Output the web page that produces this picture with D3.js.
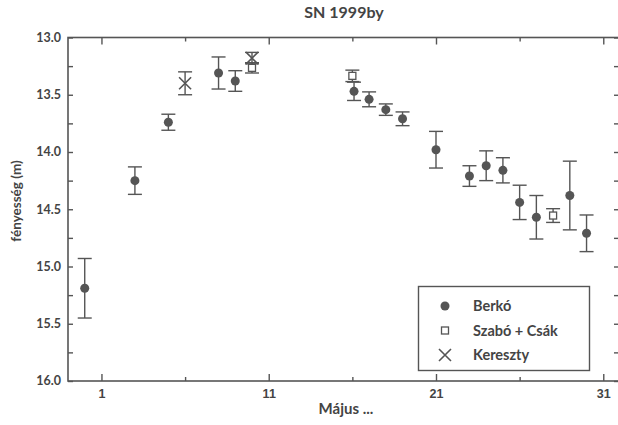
<!DOCTYPE html>
<html>
  <head>
    <meta charset="utf-8">
    <title>SN 1999by</title>
    <style>
      body {
        margin: 0;
        background: #fff;
        font-family: Lato, "Open Sans", sans-serif;
      }
      text {
        fill: #444;
        font-weight: bold;
      }
    </style>
  </head>
  <body>
    <div id="chart"></div>
    <script src="https://cdn.jsdelivr.net/npm/d3@7"></script>
    <script>
    // Berkó observations (day of May, magnitude, error)
    var berkoDays = [0, 3, 5, 8, 9, 16.1, 17, 18, 19, 21, 23, 24, 25, 26, 27, 29, 30];
    var berkoMag  = [15.19, 14.25, 13.74, 13.31, 13.38, 13.47, 13.54, 13.63, 13.71, 13.98, 14.21, 14.12, 14.16, 14.44, 14.57, 14.38, 14.71];
    var berkoErr  = [0.26, 0.12, 0.07, 0.14, 0.09, 0.08, 0.065, 0.05, 0.06, 0.16, 0.09, 0.13, 0.11, 0.15, 0.19, 0.3, 0.16];

    // Szabó + Csák
    var szaboDays = [10, 16, 28];
    var szaboMag  = [13.265, 13.335, 14.555];
    var szaboErr  = [0.045, 0.05, 0.06];

    // Kereszty
    var kerDays = [6, 10];
    var kerMag  = [13.40, 13.18];
    var kerErr  = [0.1, 0.05];

    var xTickLabels = [1, 11, 21, 31];
    var yTickLabels = [13.0, 13.5, 14.0, 14.5, 15.0, 15.5, 16.0];
    var legendNames = ["Berkó", "Szabó + Csák", "Kereszty"];

    var width = 618, height = 425;
    var ink = "#555";

    var svg = d3.select("#chart").append("svg")
        .attr("width", width)
        .attr("height", height);

    var x = d3.scaleLinear().domain([-1, 32]).range([68, 620]);
    var y = d3.scaleLinear().domain([13, 16]).range([37.5, 381]);
    var right = 622; // the frame's right edge falls just outside the picture

    function pack(days, mag, err) {
      return days.map(function(d, i) { return {d: d, m: mag[i], e: err[i]}; });
    }
    var berko = pack(berkoDays, berkoMag, berkoErr),
        szabo = pack(szaboDays, szaboMag, szaboErr),
        ker = pack(kerDays, kerMag, kerErr);

    // frame
    svg.append("rect")
        .attr("x", x.range()[0]).attr("y", y.range()[0])
        .attr("width", right - x.range()[0])
        .attr("height", y.range()[1] - y.range()[0])
        .style("fill", "none").style("stroke", ink).style("stroke-width", 1.6);

    // x ticks every 5 days, labelled every 10
    var xTicks = d3.range(1, 32, 5);
    function xAxisTicks(axis) {
      axis.tickValues(xTicks).tickSizeOuter(0)
          .tickFormat(function(d) { return xTickLabels.indexOf(d) >= 0 ? d : ""; });
      return axis;
    }
    var gxb = svg.append("g").attr("transform", "translate(0," + y.range()[1] + ")")
        .call(xAxisTicks(d3.axisTop(x)));
    var gxt = svg.append("g").attr("transform", "translate(0," + y.range()[0] + ")")
        .call(xAxisTicks(d3.axisBottom(x)));
    [gxb, gxt].forEach(function(g) {
      g.select(".domain").remove();
      g.selectAll(".tick line").attr("stroke", ink).attr("stroke-width", 1.4)
          .attr("y2", function(d) { var s = xTickLabels.indexOf(d) >= 0 ? 7 : 4; return g === gxb ? -s : s; });
      g.selectAll(".tick text").remove();
    });
    gxb.selectAll(".tick").append("text")
        .attr("y", 17).attr("text-anchor", "middle")
        .style("font-size", "12.5px")
        .text(function(d) { return xTickLabels.indexOf(d) >= 0 ? d : ""; });

    // y ticks every 0.25, labelled every 0.5
    var yTicks = d3.range(0, 13).map(function(i) { return 13 + i * 0.25; });
    var gyl = svg.append("g").attr("transform", "translate(" + x.range()[0] + ",0)")
        .call(d3.axisRight(y).tickValues(yTicks).tickSize(5).tickSizeOuter(0).tickFormat(""));
    var gyr = svg.append("g").attr("transform", "translate(" + right + ",0)")
        .call(d3.axisLeft(y).tickValues(yTicks).tickSize(8).tickSizeOuter(0).tickFormat(""));
    [gyl, gyr].forEach(function(g) {
      g.select(".domain").remove();
      g.selectAll(".tick line").attr("stroke", ink).attr("stroke-width", 1.4);
      g.selectAll(".tick text").remove();
    });
    svg.append("g").selectAll("text").data(yTickLabels).join("text")
        .attr("x", 61).attr("y", function(d) { return y(d); })
        .attr("dy", "0.35em").attr("text-anchor", "end")
        .style("font-size", "12.5px")
        .text(function(d) { return d.toFixed(1); });

    // title and axis labels
    svg.append("text").attr("x", 344).attr("y", 18).attr("text-anchor", "middle")
        .style("font-size", "16px").text("SN 1999by");
    svg.append("text").attr("x", 346).attr("y", 414).attr("text-anchor", "middle")
        .style("font-size", "15px").text("Május ...");
    svg.append("text").attr("transform", "translate(21,201) rotate(-90)")
        .attr("text-anchor", "middle").style("font-size", "13.5px").text("fényesség (m)");

    // error bars
    function errorBars(data) {
      var g = svg.append("g").selectAll("g").data(data).join("g")
          .attr("stroke", ink).attr("stroke-width", 1.4);
      g.append("line")
          .attr("x1", function(p) { return x(p.d); }).attr("x2", function(p) { return x(p.d); })
          .attr("y1", function(p) { return y(p.m - p.e); }).attr("y2", function(p) { return y(p.m + p.e); });
      [-1, 1].forEach(function(s) {
        g.append("line")
            .attr("x1", function(p) { return x(p.d) - 7; }).attr("x2", function(p) { return x(p.d) + 7; })
            .attr("y1", function(p) { return y(p.m + s * p.e); }).attr("y2", function(p) { return y(p.m + s * p.e); });
      });
    }
    errorBars(berko);
    errorBars(szabo);
    errorBars(ker);

    // markers
    function circle(sel) {
      sel.append("circle").attr("r", 4.5).style("fill", ink).style("stroke", "none");
    }
    function square(sel) {
      sel.append("rect").attr("x", -3.5).attr("y", -3.5).attr("width", 7).attr("height", 7)
          .style("fill", "#fff").style("stroke", ink).style("stroke-width", 1.3);
    }
    function cross(sel) {
      sel.append("path").attr("d", "M-6,-6L6,6M-6,6L6,-6")
          .style("stroke", ink).style("stroke-width", 1.6).style("fill", "none");
    }
    function markers(data, draw) {
      var g = svg.append("g").selectAll("g").data(data).join("g")
          .attr("transform", function(p) { return "translate(" + x(p.d) + "," + y(p.m) + ")"; });
      draw(g);
    }
    markers(berko, circle);
    markers(szabo, square);
    markers(ker, cross);

    // legend
    var leg = svg.append("g");
    leg.append("rect").attr("x", 418.5).attr("y", 286.5).attr("width", 171).attr("height", 84)
        .style("fill", "#fff").style("stroke", ink).style("stroke-width", 1.4);
    var draws = [circle, square, cross];
    legendNames.forEach(function(name, i) {
      var row = leg.append("g").attr("transform", "translate(445," + (306 + i * 24.5) + ")");
      draws[i](row);
      row.append("text").attr("x", 28).attr("dy", "0.35em")
          .style("font-size", "14.5px").text(name);
    });
    </script>
  </body>
</html>
